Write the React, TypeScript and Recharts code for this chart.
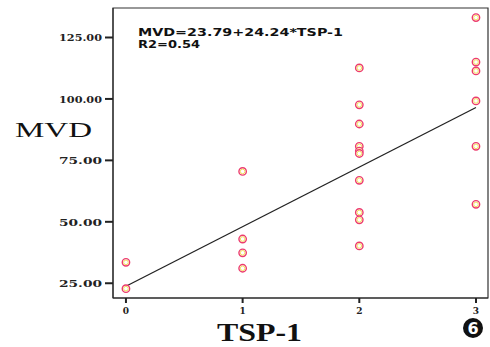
import React from "react";
import {
  ScatterChart,
  Scatter,
  XAxis,
  YAxis,
  ReferenceArea,
} from "recharts";

// TSP-1 grade vs MVD
const tspLevels = [0, 1, 2, 3];
const mvdAt0 = [33.5, 22.8];
const mvdAt1 = [70.5, 43.0, 37.4, 31.1];
const mvdAt2 = [112.6, 97.6, 89.8, 80.7, 78.8, 77.8, 66.9, 53.8, 50.8, 40.2];
const mvdAt3 = [133.1, 115.0, 111.4, 99.2, 80.7, 57.1];
const yTicks = [25, 50, 75, 100, 125];
const intercept = 23.79;
const slope = 24.24;
const r2 = 0.54;

const points = [mvdAt0, mvdAt1, mvdAt2, mvdAt3].flatMap((vals, i) =>
  vals.map((v) => ({ tsp: tspLevels[i], mvd: v }))
);
const fit = [tspLevels[0], tspLevels[tspLevels.length - 1]].map((t) => ({
  tsp: t,
  mvd: intercept + slope * t,
}));

const Ring = (p: any) => (
  <g>
    <circle cx={p.cx} cy={p.cy} r={3.7} fill="#fff" stroke="#ec3b6e" strokeWidth={1.4} />
    <circle cx={p.cx} cy={p.cy} r={2.3} fill="none" stroke="#f4df5a" strokeWidth={1} />
  </g>
);

const YTick = (p: any) => (
  <text
    x={p.x}
    y={p.y + 4}
    textAnchor="end"
    fontFamily="DejaVu Serif"
    fontWeight="bold"
    fontSize={10}
    fill="#222"
    textLength={43}
    lengthAdjust="spacingAndGlyphs"
  >
    {p.payload.value.toFixed(2)}
  </text>
);

const XTick = (p: any) => (
  <text
    x={p.x}
    y={p.y + 9}
    textAnchor="middle"
    fontFamily="DejaVu Serif"
    fontWeight="bold"
    fontSize={9}
    fill="#222"
  >
    {p.payload.value}
  </text>
);

export default function App() {
  return (
    <div style={{ position: "absolute", left: 0, top: 0, width: 490, height: 347, background: "#fff" }}>
      <ScatterChart width={490} height={347} margin={{ top: 8, right: 2, bottom: 0, left: 0 }}>
        <XAxis
          type="number"
          dataKey="tsp"
          domain={[-0.111, 3.103]}
          ticks={tspLevels}
          height={49}
          tickSize={5}
          tick={<XTick />}
          stroke="#222"
          tickLine={{ stroke: "#222", strokeWidth: 2 }}
        />
        <YAxis
          type="number"
          dataKey="mvd"
          domain={[19, 137]}
          ticks={yTicks}
          width={113}
          tickSize={8}
          tickMargin={3}
          tick={<YTick />}
          stroke="#222"
          tickLine={{ stroke: "#222", strokeWidth: 2 }}
        />
        <ReferenceArea
          x1={-0.111}
          x2={3.103}
          y1={19}
          y2={137}
          fill="none"
          stroke="#333"
          strokeWidth={1.2}
          ifOverflow="visible"
        />
        <Scatter
          data={fit}
          line={{ stroke: "#222", strokeWidth: 1.3 }}
          shape={() => null}
          isAnimationActive={false}
        />
        <Scatter data={points} shape={<Ring />} isAnimationActive={false} />
        <text
          x={138}
          y={36}
          fontFamily="DejaVu Sans"
          fontWeight="bold"
          fontSize={11}
          fill="#111"
          textLength={205}
          lengthAdjust="spacingAndGlyphs"
        >
          {`MVD=${intercept}+${slope}*TSP-1`}
        </text>
        <text
          x={138}
          y={48}
          fontFamily="DejaVu Sans"
          fontWeight="bold"
          fontSize={11}
          fill="#111"
          textLength={62}
          lengthAdjust="spacingAndGlyphs"
        >
          {`R2=${r2}`}
        </text>
        <text
          x={15}
          y={137}
          fontFamily="Liberation Serif"
          fontSize={21}
          fill="#111"
          textLength={77}
          lengthAdjust="spacingAndGlyphs"
        >
          MVD
        </text>
        <text
          x={217}
          y={341}
          fontFamily="Liberation Serif"
          fontWeight="bold"
          fontSize={25}
          fill="#111"
          textLength={85}
          lengthAdjust="spacingAndGlyphs"
        >
          TSP-1
        </text>
        <circle cx={473} cy={328} r={10} fill="#111" />
        <text
          x={473}
          y={334}
          textAnchor="middle"
          fontFamily="DejaVu Sans"
          fontWeight="bold"
          fontSize={16}
          fill="#fff"
        >
          6
        </text>
      </ScatterChart>
    </div>
  );
}
